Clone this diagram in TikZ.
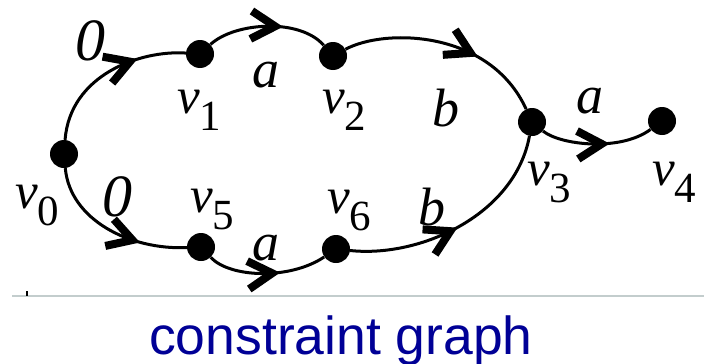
\documentclass[tikz,border=0pt]{standalone}
\usepackage{fontspec}
\setmainfont{Liberation Serif}
\newfontfamily\capfont{Liberation Sans}
\usetikzlibrary{decorations.markings}
\definecolor{capblue}{RGB}{0,0,150}
\definecolor{rulegray}{RGB}{195,205,205}
\newcommand{\vsub}[1]{{\fontsize{51}{51}\selectfont\textit{v}}\raisebox{-17pt}{\fontsize{43}{43}\selectfont #1}}
\tikzset{
  dot/.style={circle,fill=black,inner sep=0pt,minimum size=28pt},
  edge/.style={line width=3pt},
  mid/.style={postaction={decorate},decoration={markings,mark=at position #1 with {\draw[line width=8pt,line join=miter,miter limit=10,line cap=butt] (-25pt,14pt) -- (-1pt,0pt) -- (-25pt,-14pt);}}},
  lab/.style={inner sep=0pt,font=\fontsize{54}{54}\selectfont\itshape},
  zlab/.style={inner sep=0pt,font=\fontsize{60}{60}\selectfont\itshape},
  vlab/.style={inner sep=0pt,anchor=base west},
}
\begin{document}
\begin{tikzpicture}[x=1pt,y=-1pt]
\useasboundingbox (0,0) rectangle (704,364);
% vertices
\node[dot] (v0) at (64,154) {};
\node[dot] (v1) at (200,54) {};
\node[dot] (v2) at (333,56) {};
\node[dot] (v3) at (532,122) {};
\node[dot] (v4) at (662,121) {};
\node[dot] (v5) at (201,247) {};
\node[dot] (v6) at (336,249) {};
% edges
\draw[edge,mid=0.66] (v0) .. controls (70,75) and (140,50) .. (v1);
\draw[edge,mid=0.57] (v1) .. controls (235,22) and (300,18) .. (v2);
\draw[edge,mid=0.62] (v2) .. controls (385,28) and (490,30) .. (v3);
\draw[edge,mid=0.55] (v3) .. controls (560,145) and (620,152) .. (v4);
\draw[edge,mid=0.66] (v0) .. controls (70,220) and (130,250) .. (v5);
\draw[edge,mid=0.55] (v5) .. controls (230,278) and (290,280) .. (v6);
\draw[edge,mid=0.45] (v6) .. controls (420,258) and (515,215) .. (v3);
% edge labels
\node[zlab] (l01) at (90,41) {0};
\node[lab] (l12) at (266,75) {a};
\node[lab] (l23) at (446,108) {b};
\node[lab] (l34) at (590,101) {a};
\node[zlab] (l05) at (117,197) {0};
\node[lab] (l56) at (266,248) {a};
\node[lab] (l63) at (432,207) {b};
% vertex labels
\node[vlab] (n0) at (15,208) {\vsub{0}};
\node[vlab] (n1) at (177,113) {\vsub{1}};
\node[vlab] (n2) at (322,113) {\vsub{2}};
\node[vlab] (n3) at (527,185) {\vsub{3}};
\node[vlab] (n4) at (652,185) {\vsub{4}};
\node[vlab] (n5) at (190,212) {\vsub{5}};
\node[vlab] (n6) at (327,213) {\vsub{6}};
% rule
\coordinate (r0) at (12,296);
\coordinate (r1) at (704,296);
\draw[rulegray,line width=1.6pt] (r0) -- (r1);
\coordinate (t0) at (27,291);
\coordinate (t1) at (27,296);
\draw[black,line width=1.2pt] (t0) -- (t1);
% caption
\node[inner sep=0pt,anchor=base,text=capblue,font=\capfont\fontsize{53.5}{53.5}\selectfont] (cap) at (341,354) {constraint graph};
\end{tikzpicture}
\end{document}
